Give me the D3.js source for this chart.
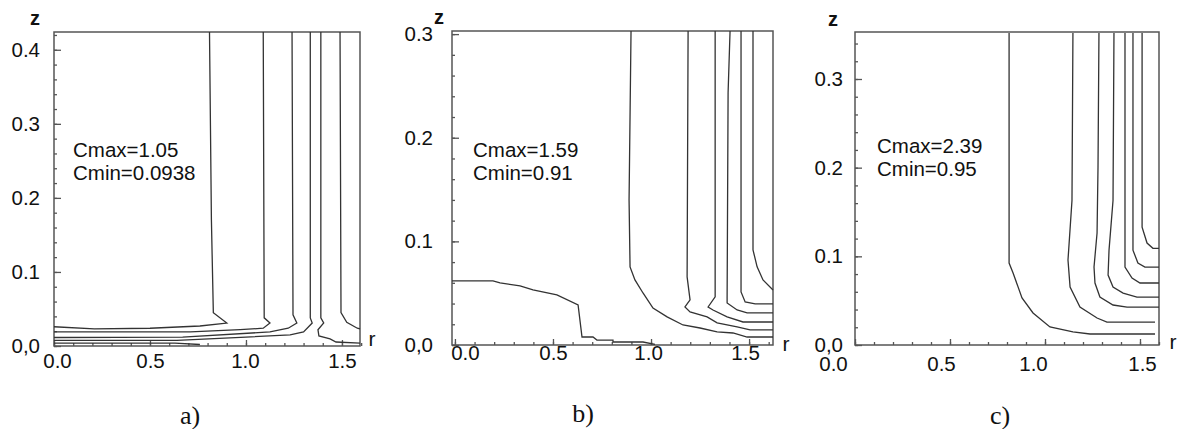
<!DOCTYPE html>
<html lang="en">
<head>
<meta charset="utf-8">
<title>Contours</title>
<script src="https://cdn.jsdelivr.net/npm/d3@7"></script>
<style>
  html, body { margin: 0; padding: 0; background: #fff; }
  svg { display: block; }
  .tick text { font-family: "Liberation Sans", Arial, sans-serif; font-size: 20.5px; fill: #111; }
  .lbl { font-family: "Liberation Sans", Arial, sans-serif; fill: #111; }
  .cap { font-family: "Liberation Serif", "Times New Roman", serif; font-size: 26px; fill: #111; }
</style>
</head>
<body>
<script>
// contour polylines, [r, z] pairs
const contoursA = [
  [[0,0.026],[0.21,0.023],[0.5,0.024],[0.76,0.027],[0.9,0.031],[0.83,0.045],[0.82,0.17],[0.81,0.424]],
  [[0,0.019],[0.71,0.019],[0.97,0.022],[1.09,0.024],[1.125,0.031],[1.095,0.038],[1.09,0.424]],
  [[0,0.0115],[0.67,0.012],[1.125,0.019],[1.22,0.024],[1.265,0.031],[1.245,0.042],[1.24,0.424]],
  [[0,0.0075],[0.64,0.0075],[1.0,0.012],[1.23,0.015],[1.3,0.019],[1.345,0.031],[1.335,0.038],[1.335,0.424]],
  [[1.39,0.424],[1.39,0.038],[1.405,0.031],[1.375,0.022],[1.38,0.0135],[1.438,0.0095],[1.469,0.0054],[1.594,0.004]],
  [[1.49,0.424],[1.495,0.045],[1.525,0.032],[1.58,0.024],[1.594,0.023]],
  [[0,0.004],[0.63,0.004],[0.76,0.002]]
];
const contoursB = [
  [[-0.015,0.0618],[0.194,0.0618],[0.23,0.0599],[0.332,0.057],[0.398,0.0531],[0.52,0.0483],[0.628,0.0386],[0.648,0.0077],[0.704,0.0077],[0.724,0.0048],[0.806,0.0048],[0.806,0.0029],[0.959,0.0029],[1.02,0.0005]],
  [[0.898,0.303],[0.888,0.14],[0.893,0.0754],[0.918,0.0628],[0.959,0.0502],[1.01,0.0357],[1.082,0.0271],[1.163,0.0193],[1.25,0.0164],[1.337,0.0126],[1.418,0.0116],[1.49,0.0077],[1.622,0.0077]],
  [[1.189,0.303],[1.184,0.0657],[1.199,0.0435],[1.173,0.0367],[1.199,0.0319],[1.286,0.0271],[1.337,0.0213],[1.439,0.0174],[1.505,0.0145],[1.622,0.0145]],
  [[1.327,0.303],[1.327,0.0464],[1.291,0.0367],[1.316,0.0338],[1.388,0.0271],[1.469,0.0222],[1.622,0.0222]],
  [[1.403,0.303],[1.393,0.2435],[1.388,0.0454],[1.388,0.0406],[1.439,0.0338],[1.49,0.031],[1.622,0.031]],
  [[1.459,0.303],[1.459,0.0512],[1.48,0.0415],[1.531,0.0396],[1.622,0.0396]],
  [[1.52,0.303],[1.52,0.0918],[1.541,0.0754],[1.571,0.0628],[1.622,0.0531]]
];
const contoursC = [
  [[0.811,0.352],[0.811,0.0924],[0.832,0.0812],[0.879,0.053],[0.937,0.0361],[1.026,0.0203],[1.147,0.0147],[1.237,0.0124],[1.579,0.0124]],
  [[1.147,0.352],[1.142,0.163],[1.121,0.0958],[1.132,0.0654],[1.184,0.0428],[1.274,0.0304],[1.326,0.0259],[1.579,0.0259]],
  [[1.284,0.352],[1.279,0.2007],[1.274,0.1263],[1.258,0.0879],[1.263,0.0699],[1.289,0.0541],[1.358,0.0451],[1.432,0.0428],[1.6,0.0428]],
  [[1.363,0.352],[1.358,0.163],[1.337,0.107],[1.332,0.0789],[1.358,0.0654],[1.411,0.0586],[1.484,0.0541],[1.6,0.0541]],
  [[1.421,0.352],[1.421,0.0879],[1.458,0.0755],[1.5,0.0699],[1.6,0.0699]],
  [[1.463,0.352],[1.463,0.107],[1.489,0.0924],[1.526,0.0879],[1.6,0.0879]],
  [[1.511,0.352],[1.511,0.133],[1.537,0.115],[1.568,0.109],[1.6,0.109]]
];

const rTicks = [0, 0.5, 1.0, 1.5];
const zTicksA = [0, 0.1, 0.2, 0.3, 0.4];
const zTicksB = [0, 0.1, 0.2, 0.3];
const zTicksC = [0, 0.1, 0.2, 0.3];
const cmaxText = ["Cmax=1.05", "Cmax=1.59", "Cmax=2.39"];
const cminText = ["Cmin=0.0938", "Cmin=0.91", "Cmin=0.95"];
const captions = ["a)", "b)", "c)"];

const W = 1184, H = 429;
const svg = d3.select("body").append("svg").attr("width", W).attr("height", H);

const panels = [
  { contours: contoursA, zTicks: zTicksA, rDom: [0, 1.594], zDom: [0, 0.424],
    x0: 54, x1: 360, y0: 32, y1: 346, yPad: 14, xPad: 7, xDx: [3, 0, -1, 0],
    zAt: [35, 25], rAt: [372, 346], txt: [73, 157], capAt: [190, 424] },
  { contours: contoursB, zTicks: zTicksB, rDom: [-0.015, 1.622], zDom: [0, 0.303],
    x0: 452, x1: 773, y0: 31, y1: 345, yPad: 19, xPad: 0, xDx: [10, 0, -3, -4],
    zAt: [439, 24], rAt: [786, 351], txt: [473, 157], capAt: [583, 422] },
  { contours: contoursC, zTicks: zTicksC, rDom: [0, 1.6], zDom: [0, 0.353],
    x0: 855, x1: 1159, y0: 32, y1: 345, yPad: 12, xPad: 11, xDx: [-22, -9, -12, 2],
    zAt: [833, 26], rAt: [1173, 349], txt: [877, 153], capAt: [1000, 424] }
];

const fmt = d => d === 0 ? "0,0" : d3.format(".1f")(d);

panels.forEach((p, i) => {
  const x = d3.scaleLinear().domain(p.rDom).range([p.x0, p.x1]);
  const y = d3.scaleLinear().domain(p.zDom).range([p.y1, p.y0]);
  const g = svg.append("g");

  // minor + major ticks, pointing inward
  const zMinor = d3.range(0, p.zDom[1] + 1e-9, 0.02).map(v => +v.toFixed(2));
  const rMinor = d3.range(0, 1.6 + 1e-9, 0.1).map(v => +v.toFixed(1));

  const tickStyle = sel => {
    sel.select(".domain").remove();
    sel.selectAll(".tick line").attr("stroke", "#555").attr("stroke-width", 1.3);
  };

  g.append("g").attr("transform", `translate(${p.x0},0)`)
    .call(d3.axisRight(y).tickValues(zMinor).tickSize(3).tickFormat(""))
    .call(tickStyle);
  g.append("g").attr("transform", `translate(${p.x0},0)`)
    .call(d3.axisRight(y).tickValues(p.zTicks).tickSize(7).tickFormat(""))
    .call(tickStyle);
  g.append("g").attr("transform", `translate(0,${p.y1})`)
    .call(d3.axisTop(x).tickValues(rMinor).tickSize(3).tickFormat(""))
    .call(tickStyle);
  g.append("g").attr("transform", `translate(0,${p.y1})`)
    .call(d3.axisTop(x).tickValues(rTicks).tickSize(6).tickFormat(""))
    .call(tickStyle);

  // labels
  g.append("g").attr("transform", `translate(${p.x0},0)`)
    .call(d3.axisLeft(y).tickValues(p.zTicks).tickSize(0).tickPadding(p.yPad).tickFormat(fmt))
    .call(s => s.select(".domain").remove());
  g.append("g").attr("transform", `translate(0,${p.y1})`)
    .call(d3.axisBottom(x).tickValues(rTicks).tickSize(0).tickPadding(p.xPad).tickFormat(d3.format(".1f")))
    .call(s => s.select(".domain").remove())
    .selectAll(".tick text").attr("dx", (d, j) => p.xDx[j]);

  // frame
  g.append("rect")
    .attr("x", p.x0).attr("y", p.y0)
    .attr("width", p.x1 - p.x0).attr("height", p.y1 - p.y0)
    .attr("fill", "none").attr("stroke", "#555").attr("stroke-width", 1.5);

  // contours
  const line = d3.line().x(d => x(d[0])).y(d => y(d[1]));
  g.append("g").selectAll("path")
    .data(p.contours)
    .enter()
    .append("path")
    .attr("d", line)
    .attr("fill", "none")
    .attr("stroke", "#333")
    .attr("stroke-width", 1.3);

  g.append("text").attr("class", "lbl")
    .attr("x", p.zAt[0]).attr("y", p.zAt[1])
    .attr("text-anchor", "middle").attr("font-size", 20).attr("font-weight", "bold")
    .text("z");
  g.append("text").attr("class", "lbl")
    .attr("x", p.rAt[0]).attr("y", p.rAt[1])
    .attr("text-anchor", "middle").attr("font-size", 21)
    .text("r");

  g.append("text").attr("class", "lbl")
    .attr("x", p.txt[0]).attr("y", p.txt[1]).attr("font-size", 20.5)
    .text(cmaxText[i]);
  g.append("text").attr("class", "lbl")
    .attr("x", p.txt[0]).attr("y", p.txt[1] + 23).attr("font-size", 20.5)
    .text(cminText[i]);

  g.append("text").attr("class", "cap")
    .attr("x", p.capAt[0]).attr("y", p.capAt[1])
    .attr("text-anchor", "middle")
    .text(captions[i]);
});
</script>
</body>
</html>
